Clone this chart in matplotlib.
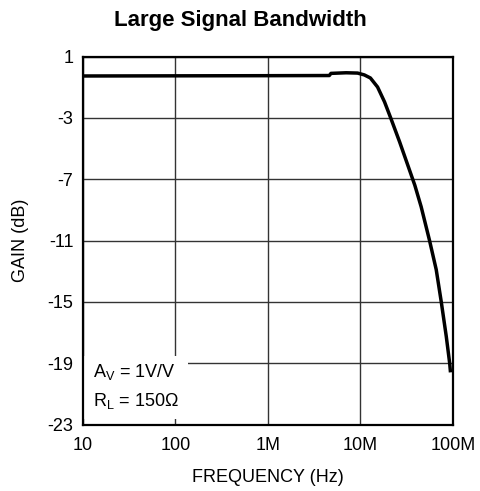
import numpy as np
import matplotlib
matplotlib.use("Agg")
import matplotlib.pyplot as plt
from matplotlib.patches import Rectangle

plt.rcParams['font.family'] = ['Liberation Sans', 'DejaVu Sans']
plt.rcParams['mathtext.fontset'] = 'custom'
plt.rcParams['mathtext.rm'] = 'Liberation Sans'
plt.rcParams['mathtext.it'] = 'Liberation Sans'
plt.rcParams['axes.unicode_minus'] = False

# frequency (Hz) and gain (dB)
freq = [1e4, 1e5, 1e6, 4.6e6, 4.8e6, 7e6, 9.3e6, 11e6, 12.8e6, 15.3e6, 18.2e6,
        21.2e6, 26.5e6, 32.4e6, 38.7e6, 45.3e6, 55.8e6, 65.9e6, 74.7e6, 84.6e6,
        92.1e6, 94e6]
gain = [-0.27, -0.26, -0.25, -0.24, -0.10, -0.06, -0.08, -0.20, -0.40, -0.99, -1.96,
        -3.0, -4.57, -6.07, -7.4, -8.8, -11.0, -12.9, -15.0, -17.25,
        -19.0, -19.6]

xticks = [1e4, 1e5, 1e6, 1e7, 1e8]
xticklabels = ['10', '100', '1M', '10M', '100M']
yticks = [1, -3, -7, -11, -15, -19, -23]

fig = plt.figure(figsize=(4.8, 4.91), dpi=100)
ax = fig.add_axes([0.1729, 0.1354, 0.7708, 0.7495])

ax.plot(freq, gain, color='black', lw=2.5, solid_capstyle='butt',
        solid_joinstyle='round', zorder=4)
ax.set_xscale('log')
ax.set_xlim(1e4, 1e8)
ax.set_ylim(-23, 1)
ax.set_xticks(xticks)
ax.set_xticklabels(xticklabels)
ax.minorticks_off()
ax.set_yticks(yticks)
ax.tick_params(length=0, labelsize=13)
ax.tick_params(axis='y', pad=7)
ax.tick_params(axis='x', pad=9)
ax.grid(True, color='#333333', lw=1.0, zorder=1)
for s in ax.spines.values():
    s.set_linewidth(1.6)

# white box behind the conditions text
ax.add_patch(Rectangle((0, 0.016), 0.284, 0.169, transform=ax.transAxes,
                       facecolor='white', edgecolor='none', zorder=2))
ax.text(0.027, 0.143, r'A$_\mathregular{V}$ = 1V/V', transform=ax.transAxes,
        fontsize=13, va='center', zorder=3)
ax.text(0.027, 0.063, r'R$_\mathregular{L}$ = 150Ω', transform=ax.transAxes,
        fontsize=13, va='center', zorder=3)

ax.set_xlabel('FREQUENCY (Hz)', fontsize=13, va='center')
ax.xaxis.set_label_coords(0.5, -0.1427)
ax.set_ylabel('GAIN (dB)', fontsize=13, va='center')
ax.yaxis.set_label_coords(-0.170, 0.5)
fig.text(0.5, 0.959, 'Large Signal Bandwidth', ha='center', va='center',
         fontsize=16, fontweight='bold')

fig.savefig('out.png', dpi=100)
